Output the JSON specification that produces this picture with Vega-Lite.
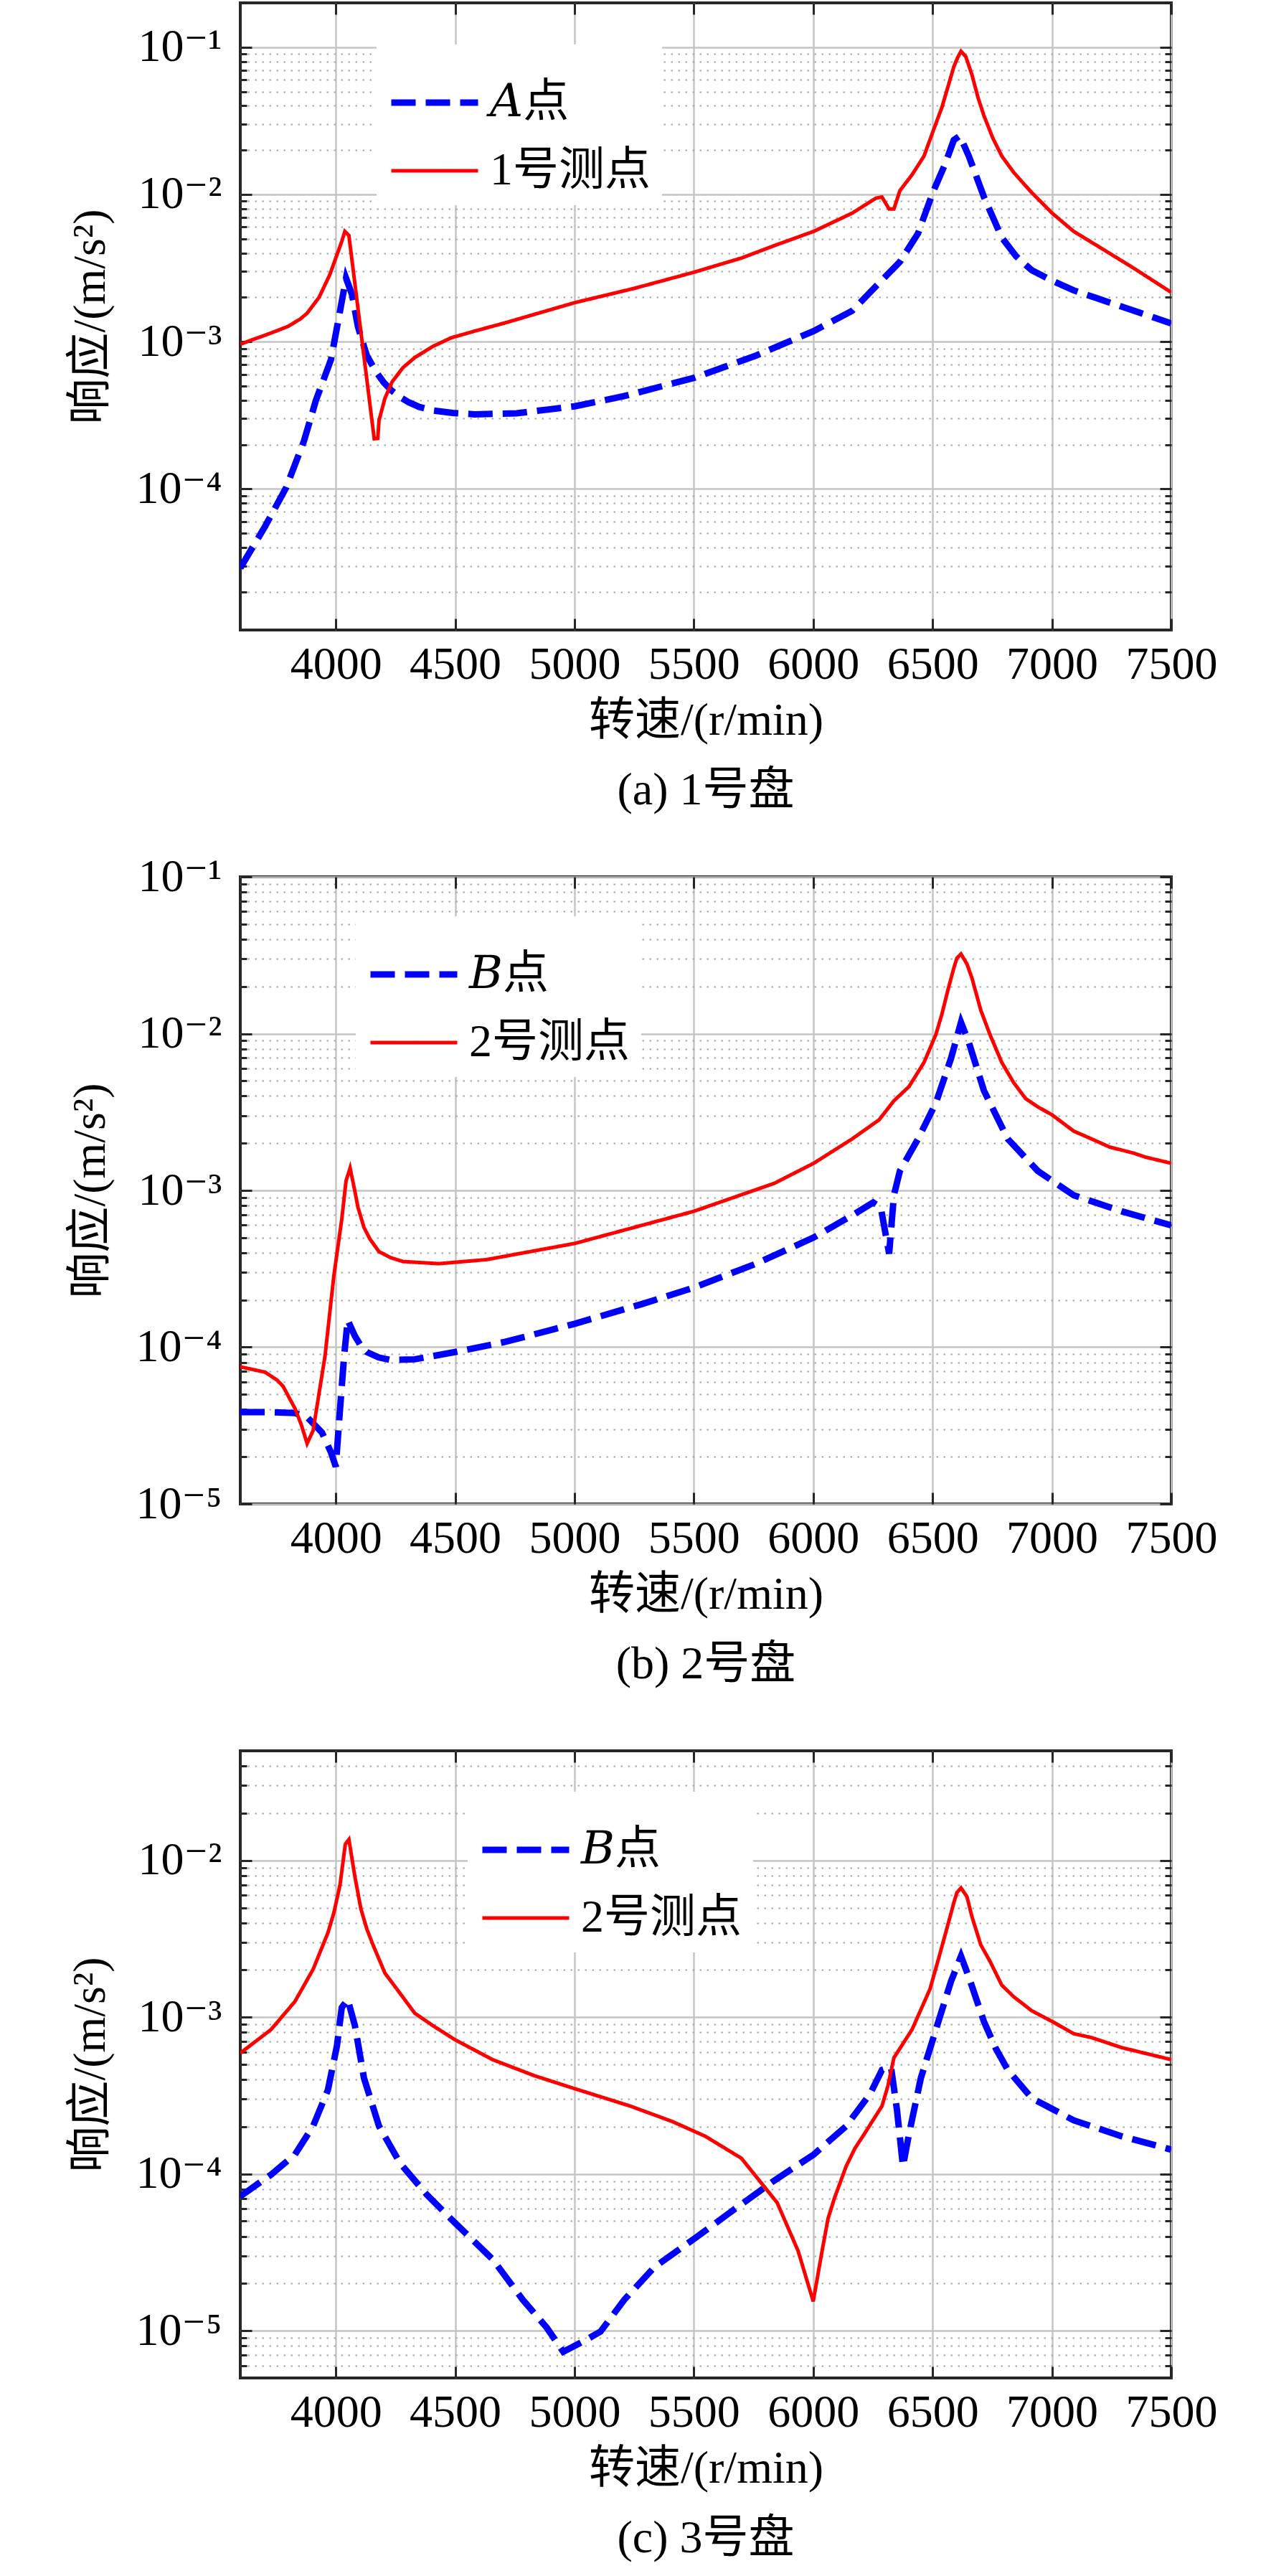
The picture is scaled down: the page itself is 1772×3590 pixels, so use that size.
{
  "$schema": "https://vega.github.io/schema/vega-lite/v6.json",
  "padding": {"left": 92, "top": 0, "right": 5, "bottom": 5},
  "background": "white",
  "datasets": {
    "resp": [
      {"p": "a", "s": "𝐴点", "r": 3600, "v": 2.9e-5},
      {"p": "a", "s": "𝐴点", "r": 3704, "v": 5.57e-5},
      {"p": "a", "s": "𝐴点", "r": 3792, "v": 1.02e-4},
      {"p": "a", "s": "𝐴点", "r": 3867, "v": 2.12e-4},
      {"p": "a", "s": "𝐴点", "r": 3917, "v": 4.0e-4},
      {"p": "a", "s": "𝐴点", "r": 3980, "v": 7.55e-4},
      {"p": "a", "s": "𝐴点", "r": 4018, "v": 1.62e-3},
      {"p": "a", "s": "𝐴点", "r": 4043, "v": 2.7e-3},
      {"p": "a", "s": "𝐴点", "r": 4068, "v": 2.09e-3},
      {"p": "a", "s": "𝐴点", "r": 4093, "v": 1.26e-3},
      {"p": "a", "s": "𝐴点", "r": 4130, "v": 8.05e-4},
      {"p": "a", "s": "𝐴点", "r": 4168, "v": 6.25e-4},
      {"p": "a", "s": "𝐴点", "r": 4200, "v": 5.3e-4},
      {"p": "a", "s": "𝐴点", "r": 4231, "v": 4.69e-4},
      {"p": "a", "s": "𝐴点", "r": 4270, "v": 4.2e-4},
      {"p": "a", "s": "𝐴点", "r": 4306, "v": 3.87e-4},
      {"p": "a", "s": "𝐴点", "r": 4350, "v": 3.6e-4},
      {"p": "a", "s": "𝐴点", "r": 4406, "v": 3.41e-4},
      {"p": "a", "s": "𝐴点", "r": 4490, "v": 3.28e-4},
      {"p": "a", "s": "𝐴点", "r": 4582, "v": 3.21e-4},
      {"p": "a", "s": "𝐴点", "r": 4758, "v": 3.26e-4},
      {"p": "a", "s": "𝐴点", "r": 5001, "v": 3.64e-4},
      {"p": "a", "s": "𝐴点", "r": 5209, "v": 4.27e-4},
      {"p": "a", "s": "𝐴点", "r": 5500, "v": 5.67e-4},
      {"p": "a", "s": "𝐴点", "r": 5761, "v": 8.05e-4},
      {"p": "a", "s": "𝐴点", "r": 6002, "v": 1.18e-3},
      {"p": "a", "s": "𝐴点", "r": 6163, "v": 1.62e-3},
      {"p": "a", "s": "𝐴点", "r": 6263, "v": 2.38e-3},
      {"p": "a", "s": "𝐴点", "r": 6363, "v": 3.48e-3},
      {"p": "a", "s": "𝐴点", "r": 6439, "v": 5.43e-3},
      {"p": "a", "s": "𝐴点", "r": 6501, "v": 1.03e-2},
      {"p": "a", "s": "𝐴点", "r": 6552, "v": 1.6e-2},
      {"p": "a", "s": "𝐴点", "r": 6589, "v": 2.34e-2},
      {"p": "a", "s": "𝐴点", "r": 6614, "v": 2.5e-2},
      {"p": "a", "s": "𝐴点", "r": 6652, "v": 1.82e-2},
      {"p": "a", "s": "𝐴点", "r": 6715, "v": 9.62e-3},
      {"p": "a", "s": "𝐴点", "r": 6790, "v": 5.09e-3},
      {"p": "a", "s": "𝐴点", "r": 6850, "v": 3.8e-3},
      {"p": "a", "s": "𝐴点", "r": 6915, "v": 3.06e-3},
      {"p": "a", "s": "𝐴点", "r": 7000, "v": 2.6e-3},
      {"p": "a", "s": "𝐴点", "r": 7091, "v": 2.23e-3},
      {"p": "a", "s": "𝐴点", "r": 7292, "v": 1.73e-3},
      {"p": "a", "s": "𝐴点", "r": 7500, "v": 1.33e-3},

      {"p": "a", "s": "1号测点", "r": 3600, "v": 9.6e-4},
      {"p": "a", "s": "1号测点", "r": 3650, "v": 1.03e-3},
      {"p": "a", "s": "1号测点", "r": 3700, "v": 1.1e-3},
      {"p": "a", "s": "1号测点", "r": 3750, "v": 1.18e-3},
      {"p": "a", "s": "1号测点", "r": 3800, "v": 1.27e-3},
      {"p": "a", "s": "1号测点", "r": 3850, "v": 1.42e-3},
      {"p": "a", "s": "1号测点", "r": 3880, "v": 1.56e-3},
      {"p": "a", "s": "1号测点", "r": 3930, "v": 2.0e-3},
      {"p": "a", "s": "1号测点", "r": 3975, "v": 2.85e-3},
      {"p": "a", "s": "1号测点", "r": 4010, "v": 4.1e-3},
      {"p": "a", "s": "1号测点", "r": 4025, "v": 4.79e-3},
      {"p": "a", "s": "1号测点", "r": 4038, "v": 5.61e-3},
      {"p": "a", "s": "1号测点", "r": 4055, "v": 5.26e-3},
      {"p": "a", "s": "1号测点", "r": 4161, "v": 2.19e-4},
      {"p": "a", "s": "1号测点", "r": 4176, "v": 2.2e-4},
      {"p": "a", "s": "1号测点", "r": 4181, "v": 2.91e-4},
      {"p": "a", "s": "1号测点", "r": 4206, "v": 4.13e-4},
      {"p": "a", "s": "1号测点", "r": 4236, "v": 5.33e-4},
      {"p": "a", "s": "1号测点", "r": 4281, "v": 6.65e-4},
      {"p": "a", "s": "1号测点", "r": 4331, "v": 7.8e-4},
      {"p": "a", "s": "1号测点", "r": 4406, "v": 9.27e-4},
      {"p": "a", "s": "1号测点", "r": 4482, "v": 1.06e-3},
      {"p": "a", "s": "1号测点", "r": 4582, "v": 1.18e-3},
      {"p": "a", "s": "1号测点", "r": 4708, "v": 1.34e-3},
      {"p": "a", "s": "1号测点", "r": 5001, "v": 1.84e-3},
      {"p": "a", "s": "1号测点", "r": 5250, "v": 2.3e-3},
      {"p": "a", "s": "1号测点", "r": 5500, "v": 2.96e-3},
      {"p": "a", "s": "1号测点", "r": 5700, "v": 3.7e-3},
      {"p": "a", "s": "1号测点", "r": 5837, "v": 4.49e-3},
      {"p": "a", "s": "1号测点", "r": 6002, "v": 5.61e-3},
      {"p": "a", "s": "1号测点", "r": 6163, "v": 7.46e-3},
      {"p": "a", "s": "1号测点", "r": 6263, "v": 9.44e-3},
      {"p": "a", "s": "1号测点", "r": 6288, "v": 9.6e-3},
      {"p": "a", "s": "1号测点", "r": 6318, "v": 7.96e-3},
      {"p": "a", "s": "1号测点", "r": 6338, "v": 7.96e-3},
      {"p": "a", "s": "1号测点", "r": 6363, "v": 1.06e-2},
      {"p": "a", "s": "1号测点", "r": 6414, "v": 1.36e-2},
      {"p": "a", "s": "1号测点", "r": 6464, "v": 1.82e-2},
      {"p": "a", "s": "1号测点", "r": 6501, "v": 2.66e-2},
      {"p": "a", "s": "1号测点", "r": 6539, "v": 3.9e-2},
      {"p": "a", "s": "1号测点", "r": 6564, "v": 5.36e-2},
      {"p": "a", "s": "1号测点", "r": 6589, "v": 7.36e-2},
      {"p": "a", "s": "1号测点", "r": 6605, "v": 8.5e-2},
      {"p": "a", "s": "1号测点", "r": 6619, "v": 9.38e-2},
      {"p": "a", "s": "1号测点", "r": 6639, "v": 8.64e-2},
      {"p": "a", "s": "1号测点", "r": 6665, "v": 6.49e-2},
      {"p": "a", "s": "1号测点", "r": 6690, "v": 4.57e-2},
      {"p": "a", "s": "1号测点", "r": 6715, "v": 3.43e-2},
      {"p": "a", "s": "1号测点", "r": 6752, "v": 2.42e-2},
      {"p": "a", "s": "1号测点", "r": 6790, "v": 1.82e-2},
      {"p": "a", "s": "1号测点", "r": 6840, "v": 1.41e-2},
      {"p": "a", "s": "1号测点", "r": 6915, "v": 1.03e-2},
      {"p": "a", "s": "1号测点", "r": 7001, "v": 7.46e-3},
      {"p": "a", "s": "1号测点", "r": 7091, "v": 5.61e-3},
      {"p": "a", "s": "1号测点", "r": 7217, "v": 4.21e-3},
      {"p": "a", "s": "1号测点", "r": 7342, "v": 3.16e-3},
      {"p": "a", "s": "1号测点", "r": 7500, "v": 2.16e-3},

      {"p": "b", "s": "𝐵点", "r": 3600, "v": 3.85e-5},
      {"p": "b", "s": "𝐵点", "r": 3729, "v": 3.85e-5},
      {"p": "b", "s": "𝐵点", "r": 3829, "v": 3.8e-5},
      {"p": "b", "s": "𝐵点", "r": 3880, "v": 3.58e-5},
      {"p": "b", "s": "𝐵点", "r": 3942, "v": 2.86e-5},
      {"p": "b", "s": "𝐵点", "r": 3980, "v": 2.13e-5},
      {"p": "b", "s": "𝐵点", "r": 4000, "v": 1.73e-5},
      {"p": "b", "s": "𝐵点", "r": 4018, "v": 4.07e-5},
      {"p": "b", "s": "𝐵点", "r": 4035, "v": 8.79e-5},
      {"p": "b", "s": "𝐵点", "r": 4050, "v": 1.49e-4},
      {"p": "b", "s": "𝐵点", "r": 4080, "v": 1.18e-4},
      {"p": "b", "s": "𝐵点", "r": 4105, "v": 1.02e-4},
      {"p": "b", "s": "𝐵点", "r": 4130, "v": 9.31e-5},
      {"p": "b", "s": "𝐵点", "r": 4180, "v": 8.6e-5},
      {"p": "b", "s": "𝐵点", "r": 4231, "v": 8.28e-5},
      {"p": "b", "s": "𝐵点", "r": 4331, "v": 8.37e-5},
      {"p": "b", "s": "𝐵点", "r": 4499, "v": 9.31e-5},
      {"p": "b", "s": "𝐵点", "r": 4708, "v": 1.08e-4},
      {"p": "b", "s": "𝐵点", "r": 5001, "v": 1.41e-4},
      {"p": "b", "s": "𝐵点", "r": 5285, "v": 1.89e-4},
      {"p": "b", "s": "𝐵点", "r": 5500, "v": 2.4e-4},
      {"p": "b", "s": "𝐵点", "r": 5761, "v": 3.41e-4},
      {"p": "b", "s": "𝐵点", "r": 6002, "v": 5.01e-4},
      {"p": "b", "s": "𝐵点", "r": 6163, "v": 6.93e-4},
      {"p": "b", "s": "𝐵点", "r": 6251, "v": 8.37e-4},
      {"p": "b", "s": "𝐵点", "r": 6283, "v": 7.8e-4},
      {"p": "b", "s": "𝐵点", "r": 6318, "v": 3.95e-4},
      {"p": "b", "s": "𝐵点", "r": 6338, "v": 9.31e-4},
      {"p": "b", "s": "𝐵点", "r": 6363, "v": 1.33e-3},
      {"p": "b", "s": "𝐵点", "r": 6439, "v": 2.13e-3},
      {"p": "b", "s": "𝐵点", "r": 6514, "v": 3.62e-3},
      {"p": "b", "s": "𝐵点", "r": 6577, "v": 6.93e-3},
      {"p": "b", "s": "𝐵点", "r": 6619, "v": 1.18e-2},
      {"p": "b", "s": "𝐵点", "r": 6652, "v": 8.78e-3},
      {"p": "b", "s": "𝐵点", "r": 6715, "v": 4.33e-3},
      {"p": "b", "s": "𝐵点", "r": 6815, "v": 2.13e-3},
      {"p": "b", "s": "𝐵点", "r": 6941, "v": 1.33e-3},
      {"p": "b", "s": "𝐵点", "r": 7091, "v": 9.31e-4},
      {"p": "b", "s": "𝐵点", "r": 7292, "v": 7.36e-4},
      {"p": "b", "s": "𝐵点", "r": 7500, "v": 5.98e-4},

      {"p": "b", "s": "2号测点", "r": 3600, "v": 7.5e-5},
      {"p": "b", "s": "2号测点", "r": 3704, "v": 6.93e-5},
      {"p": "b", "s": "2号测点", "r": 3754, "v": 6.17e-5},
      {"p": "b", "s": "2号测点", "r": 3779, "v": 5.64e-5},
      {"p": "b", "s": "2号测点", "r": 3829, "v": 4.07e-5},
      {"p": "b", "s": "2号测点", "r": 3855, "v": 3.22e-5},
      {"p": "b", "s": "2号测点", "r": 3880, "v": 2.43e-5},
      {"p": "b", "s": "2号测点", "r": 3905, "v": 2.94e-5},
      {"p": "b", "s": "2号测点", "r": 3955, "v": 8.79e-5},
      {"p": "b", "s": "2号测点", "r": 3992, "v": 2.86e-4},
      {"p": "b", "s": "2号测点", "r": 4025, "v": 6.53e-4},
      {"p": "b", "s": "2号测点", "r": 4043, "v": 1.15e-3},
      {"p": "b", "s": "2号测点", "r": 4060, "v": 1.39e-3},
      {"p": "b", "s": "2号测点", "r": 4080, "v": 9.89e-4},
      {"p": "b", "s": "2号测点", "r": 4093, "v": 7.8e-4},
      {"p": "b", "s": "2号测点", "r": 4118, "v": 5.81e-4},
      {"p": "b", "s": "2号测点", "r": 4143, "v": 4.9e-4},
      {"p": "b", "s": "2号测点", "r": 4181, "v": 4.07e-4},
      {"p": "b", "s": "2号测点", "r": 4231, "v": 3.72e-4},
      {"p": "b", "s": "2号测点", "r": 4281, "v": 3.52e-4},
      {"p": "b", "s": "2号测点", "r": 4432, "v": 3.41e-4},
      {"p": "b", "s": "2号测点", "r": 4632, "v": 3.62e-4},
      {"p": "b", "s": "2号测点", "r": 5001, "v": 4.59e-4},
      {"p": "b", "s": "2号测点", "r": 5500, "v": 7.36e-4},
      {"p": "b", "s": "2号测点", "r": 5837, "v": 1.11e-3},
      {"p": "b", "s": "2号测点", "r": 6002, "v": 1.49e-3},
      {"p": "b", "s": "2号测点", "r": 6163, "v": 2.13e-3},
      {"p": "b", "s": "2号测点", "r": 6276, "v": 2.82e-3},
      {"p": "b", "s": "2号测点", "r": 6338, "v": 3.73e-3},
      {"p": "b", "s": "2号测点", "r": 6401, "v": 4.59e-3},
      {"p": "b", "s": "2号测点", "r": 6464, "v": 6.54e-3},
      {"p": "b", "s": "2号测点", "r": 6514, "v": 9.89e-3},
      {"p": "b", "s": "2号测点", "r": 6539, "v": 1.33e-2},
      {"p": "b", "s": "2号测点", "r": 6564, "v": 1.89e-2},
      {"p": "b", "s": "2号测点", "r": 6589, "v": 2.62e-2},
      {"p": "b", "s": "2号测点", "r": 6602, "v": 3.03e-2},
      {"p": "b", "s": "2号测点", "r": 6619, "v": 3.22e-2},
      {"p": "b", "s": "2号测点", "r": 6644, "v": 2.78e-2},
      {"p": "b", "s": "2号测点", "r": 6665, "v": 2.26e-2},
      {"p": "b", "s": "2号测点", "r": 6702, "v": 1.41e-2},
      {"p": "b", "s": "2号测点", "r": 6740, "v": 9.89e-3},
      {"p": "b", "s": "2号测点", "r": 6790, "v": 6.54e-3},
      {"p": "b", "s": "2号测点", "r": 6840, "v": 4.86e-3},
      {"p": "b", "s": "2号测点", "r": 6890, "v": 3.85e-3},
      {"p": "b", "s": "2号测点", "r": 6941, "v": 3.41e-3},
      {"p": "b", "s": "2号测点", "r": 7001, "v": 3.03e-3},
      {"p": "b", "s": "2号测点", "r": 7091, "v": 2.39e-3},
      {"p": "b", "s": "2号测点", "r": 7166, "v": 2.13e-3},
      {"p": "b", "s": "2号测点", "r": 7242, "v": 1.89e-3},
      {"p": "b", "s": "2号测点", "r": 7342, "v": 1.73e-3},
      {"p": "b", "s": "2号测点", "r": 7392, "v": 1.63e-3},
      {"p": "b", "s": "2号测点", "r": 7500, "v": 1.49e-3},

      {"p": "c", "s": "𝐵点", "r": 3600, "v": 7.2e-5},
      {"p": "c", "s": "𝐵点", "r": 3729, "v": 9.91e-5},
      {"p": "c", "s": "𝐵点", "r": 3829, "v": 1.33e-4},
      {"p": "c", "s": "𝐵点", "r": 3905, "v": 2.02e-4},
      {"p": "c", "s": "𝐵点", "r": 3967, "v": 3.43e-4},
      {"p": "c", "s": "𝐵点", "r": 4005, "v": 6.58e-4},
      {"p": "c", "s": "𝐵点", "r": 4025, "v": 1.15e-3},
      {"p": "c", "s": "𝐵点", "r": 4050, "v": 1.3e-3},
      {"p": "c", "s": "𝐵点", "r": 4080, "v": 8.85e-4},
      {"p": "c", "s": "𝐵点", "r": 4118, "v": 4.1e-4},
      {"p": "c", "s": "𝐵点", "r": 4181, "v": 2.02e-4},
      {"p": "c", "s": "𝐵点", "r": 4268, "v": 1.18e-4},
      {"p": "c", "s": "𝐵点", "r": 4381, "v": 7.38e-5},
      {"p": "c", "s": "𝐵点", "r": 4499, "v": 4.88e-5},
      {"p": "c", "s": "𝐵点", "r": 4657, "v": 2.86e-5},
      {"p": "c", "s": "𝐵点", "r": 4783, "v": 1.58e-5},
      {"p": "c", "s": "𝐵点", "r": 4883, "v": 1.05e-5},
      {"p": "c", "s": "𝐵点", "r": 4953, "v": 7.35e-6},
      {"p": "c", "s": "𝐵点", "r": 5034, "v": 8.51e-6},
      {"p": "c", "s": "𝐵点", "r": 5109, "v": 9.88e-6},
      {"p": "c", "s": "𝐵点", "r": 5209, "v": 1.58e-5},
      {"p": "c", "s": "𝐵点", "r": 5335, "v": 2.55e-5},
      {"p": "c", "s": "𝐵点", "r": 5500, "v": 3.85e-5},
      {"p": "c", "s": "𝐵点", "r": 5661, "v": 5.82e-5},
      {"p": "c", "s": "𝐵点", "r": 5837, "v": 9.08e-5},
      {"p": "c", "s": "𝐵点", "r": 6002, "v": 1.33e-4},
      {"p": "c", "s": "𝐵点", "r": 6138, "v": 2.02e-4},
      {"p": "c", "s": "𝐵点", "r": 6238, "v": 3.24e-4},
      {"p": "c", "s": "𝐵点", "r": 6288, "v": 4.61e-4},
      {"p": "c", "s": "𝐵点", "r": 6326, "v": 4.8e-4},
      {"p": "c", "s": "𝐵点", "r": 6351, "v": 2.55e-4},
      {"p": "c", "s": "𝐵点", "r": 6376, "v": 1.12e-4},
      {"p": "c", "s": "𝐵点", "r": 6401, "v": 1.79e-4},
      {"p": "c", "s": "𝐵点", "r": 6451, "v": 4.1e-4},
      {"p": "c", "s": "𝐵点", "r": 6514, "v": 8.34e-4},
      {"p": "c", "s": "𝐵点", "r": 6577, "v": 1.69e-3},
      {"p": "c", "s": "𝐵点", "r": 6619, "v": 2.45e-3},
      {"p": "c", "s": "𝐵点", "r": 6652, "v": 1.8e-3},
      {"p": "c", "s": "𝐵点", "r": 6715, "v": 9.39e-4},
      {"p": "c", "s": "𝐵点", "r": 6765, "v": 6.3e-4},
      {"p": "c", "s": "𝐵点", "r": 6815, "v": 4.61e-4},
      {"p": "c", "s": "𝐵点", "r": 6915, "v": 3.05e-4},
      {"p": "c", "s": "𝐵点", "r": 7091, "v": 2.2e-4},
      {"p": "c", "s": "𝐵点", "r": 7292, "v": 1.74e-4},
      {"p": "c", "s": "𝐵点", "r": 7500, "v": 1.43e-4},

      {"p": "c", "s": "2号测点", "r": 3600, "v": 5.9e-4},
      {"p": "c", "s": "2号测点", "r": 3729, "v": 8.34e-4},
      {"p": "c", "s": "2号测点", "r": 3829, "v": 1.26e-3},
      {"p": "c", "s": "2号测点", "r": 3905, "v": 2.02e-3},
      {"p": "c", "s": "2号测点", "r": 3967, "v": 3.45e-3},
      {"p": "c", "s": "2号测点", "r": 3992, "v": 4.63e-3},
      {"p": "c", "s": "2号测点", "r": 4018, "v": 7.01e-3},
      {"p": "c", "s": "2号测点", "r": 4040, "v": 1.27e-2},
      {"p": "c", "s": "2号测点", "r": 4055, "v": 1.36e-2},
      {"p": "c", "s": "2号测点", "r": 4080, "v": 7.89e-3},
      {"p": "c", "s": "2号测点", "r": 4105, "v": 4.92e-3},
      {"p": "c", "s": "2号测点", "r": 4130, "v": 3.66e-3},
      {"p": "c", "s": "2号测点", "r": 4156, "v": 2.89e-3},
      {"p": "c", "s": "2号测点", "r": 4206, "v": 1.91e-3},
      {"p": "c", "s": "2号测点", "r": 4256, "v": 1.51e-3},
      {"p": "c", "s": "2号测点", "r": 4331, "v": 1.06e-3},
      {"p": "c", "s": "2号测点", "r": 4406, "v": 8.85e-4},
      {"p": "c", "s": "2号测点", "r": 4499, "v": 7.19e-4},
      {"p": "c", "s": "2号测点", "r": 4657, "v": 5.36e-4},
      {"p": "c", "s": "2号测点", "r": 4833, "v": 4.23e-4},
      {"p": "c", "s": "2号测点", "r": 5001, "v": 3.5e-4},
      {"p": "c", "s": "2号测点", "r": 5234, "v": 2.71e-4},
      {"p": "c", "s": "2号测点", "r": 5410, "v": 2.16e-4},
      {"p": "c", "s": "2号测点", "r": 5548, "v": 1.74e-4},
      {"p": "c", "s": "2号测点", "r": 5699, "v": 1.26e-4},
      {"p": "c", "s": "2号测点", "r": 5849, "v": 6.56e-5},
      {"p": "c", "s": "2号测点", "r": 5937, "v": 3.22e-5},
      {"p": "c", "s": "2号测点", "r": 6000, "v": 1.54e-5},
      {"p": "c", "s": "2号测点", "r": 6037, "v": 3.22e-5},
      {"p": "c", "s": "2号测点", "r": 6062, "v": 5.18e-5},
      {"p": "c", "s": "2号测点", "r": 6088, "v": 6.95e-5},
      {"p": "c", "s": "2号测点", "r": 6138, "v": 1.12e-4},
      {"p": "c", "s": "2号测点", "r": 6175, "v": 1.46e-4},
      {"p": "c", "s": "2号测点", "r": 6213, "v": 1.79e-4},
      {"p": "c", "s": "2号测点", "r": 6288, "v": 2.71e-4},
      {"p": "c", "s": "2号测点", "r": 6313, "v": 3.65e-4},
      {"p": "c", "s": "2号测点", "r": 6338, "v": 5.51e-4},
      {"p": "c", "s": "2号测点", "r": 6414, "v": 8.34e-4},
      {"p": "c", "s": "2号测点", "r": 6489, "v": 1.51e-3},
      {"p": "c", "s": "2号测点", "r": 6527, "v": 2.42e-3},
      {"p": "c", "s": "2号测点", "r": 6564, "v": 3.88e-3},
      {"p": "c", "s": "2号测点", "r": 6589, "v": 5.37e-3},
      {"p": "c", "s": "2号测点", "r": 6602, "v": 6.24e-3},
      {"p": "c", "s": "2号测点", "r": 6619, "v": 6.68e-3},
      {"p": "c", "s": "2号测点", "r": 6644, "v": 5.87e-3},
      {"p": "c", "s": "2号测点", "r": 6665, "v": 4.37e-3},
      {"p": "c", "s": "2号测点", "r": 6702, "v": 2.89e-3},
      {"p": "c", "s": "2号测点", "r": 6740, "v": 2.28e-3},
      {"p": "c", "s": "2号测点", "r": 6790, "v": 1.6e-3},
      {"p": "c", "s": "2号测点", "r": 6840, "v": 1.35e-3},
      {"p": "c", "s": "2号测点", "r": 6915, "v": 1.1e-3},
      {"p": "c", "s": "2号测点", "r": 7001, "v": 9.39e-4},
      {"p": "c", "s": "2号测点", "r": 7091, "v": 7.85e-4},
      {"p": "c", "s": "2号测点", "r": 7166, "v": 7.41e-4},
      {"p": "c", "s": "2号测点", "r": 7292, "v": 6.4e-4},
      {"p": "c", "s": "2号测点", "r": 7500, "v": 5.36e-4}
    ]
  },
  "data": {"name": "resp"},
  "vconcat": [
    {
      "width": 1298,
      "height": 874,
      "transform": [{"filter": "datum.p === 'a'"}],
      "title": {"text": "(a) 1号盘", "orient": "bottom", "frame": "group", "anchor": "middle", "offset": 34},
      "layer": [
        {
          "mark": {"type": "line", "clip": true},
          "encoding": {
            "x": {"field": "r", "type": "quantitative", "scale": {"domain": [3600, 7500], "nice": false, "zero": false},
              "axis": {"values": [4000, 4500, 5000, 5500, 6000, 6500, 7000, 7500], "format": "d", "title": "转速/(r/min)", "labelPadding": 32, "titlePadding": 14, "tickSize": -16, "grid": true, "gridColor": "#c4c4c4", "gridWidth": 2.5}},
            "y": {"field": "v", "type": "quantitative", "scale": {"type": "log", "domain": [1.1e-5, 0.2], "nice": false},
              "axis": {"values": [2e-5, 3e-5, 4e-5, 5e-5, 6e-5, 7e-5, 8e-5, 9e-5, 1e-4, 2e-4, 3e-4, 4e-4, 5e-4, 6e-4, 7e-4, 8e-4, 9e-4, 1e-3, 2e-3, 3e-3, 4e-3, 5e-3, 6e-3, 7e-3, 8e-3, 9e-3, 1e-2, 2e-2, 3e-2, 4e-2, 5e-2, 6e-2, 7e-2, 8e-2, 9e-2, 0.1],
                "labelExpr": "abs(log(datum.value)/LN10 - round(log(datum.value)/LN10)) < 0.01 ? '10⁻' + ['⁰','¹','²','³','⁴','⁵','⁶'][-round(log(datum.value)/LN10)] : ''",
                "title": "响应/(m/s²)", "labelPadding": 42, "titlePadding": 30,
                "tickSize": {"condition": {"test": "abs(log(datum.value)/LN10 - round(log(datum.value)/LN10)) < 0.01", "value": -16}, "value": -9},
                "grid": true,
                "gridColor": {"condition": {"test": "abs(log(datum.value)/LN10 - round(log(datum.value)/LN10)) < 0.01", "value": "#c4c4c4"}, "value": "#a8a8a8"},
                "gridDash": {"condition": {"test": "abs(log(datum.value)/LN10 - round(log(datum.value)/LN10)) < 0.01", "value": []}, "value": [2.5, 7.5]},
                "gridWidth": {"condition": {"test": "abs(log(datum.value)/LN10 - round(log(datum.value)/LN10)) < 0.01", "value": 2.5}, "value": 2}}},
            "color": {"field": "s", "type": "nominal", "scale": {"domain": ["𝐴点", "1号测点"], "range": ["#0000ff", "#ff0000"]},
              "legend": {"orient": "none", "legendX": 190, "legendY": 58}},
            "strokeDash": {"field": "s", "type": "nominal", "scale": {"domain": ["𝐴点", "1号测点"], "range": [[34, 14], [1, 0]]}},
            "strokeWidth": {"field": "s", "type": "nominal", "scale": {"domain": ["𝐴点", "1号测点"], "range": [9, 5]}}
          }
        },
        {
          "mark": {"type": "line", "opacity": 0},
          "encoding": {
            "x": {"field": "r", "type": "quantitative", "axis": {"orient": "top", "values": [4000, 4500, 5000, 5500, 6000, 6500, 7000, 7500], "labels": false, "title": null, "grid": false, "tickSize": -16}},
            "y": {"field": "v", "type": "quantitative", "axis": {"orient": "right", "values": [2e-5, 3e-5, 4e-5, 5e-5, 6e-5, 7e-5, 8e-5, 9e-5, 1e-4, 2e-4, 3e-4, 4e-4, 5e-4, 6e-4, 7e-4, 8e-4, 9e-4, 1e-3, 2e-3, 3e-3, 4e-3, 5e-3, 6e-3, 7e-3, 8e-3, 9e-3, 1e-2, 2e-2, 3e-2, 4e-2, 5e-2, 6e-2, 7e-2, 8e-2, 9e-2, 0.1], "labels": false, "title": null, "grid": false,
              "tickSize": {"condition": {"test": "abs(log(datum.value)/LN10 - round(log(datum.value)/LN10)) < 0.01", "value": -16}, "value": -9}}},
            "detail": {"field": "s"}
          }
        }
      ],
      "resolve": {"axis": {"x": "independent", "y": "independent"}}
    },
    {
      "width": 1298,
      "height": 874,
      "transform": [{"filter": "datum.p === 'b'"}],
      "title": {"text": "(b) 2号盘", "orient": "bottom", "frame": "group", "anchor": "middle", "offset": 34},
      "layer": [
        {
          "mark": {"type": "line", "clip": true},
          "encoding": {
            "x": {"field": "r", "type": "quantitative", "scale": {"domain": [3600, 7500], "nice": false, "zero": false},
              "axis": {"values": [4000, 4500, 5000, 5500, 6000, 6500, 7000, 7500], "format": "d", "title": "转速/(r/min)", "labelPadding": 32, "titlePadding": 14, "tickSize": -16, "grid": true, "gridColor": "#c4c4c4", "gridWidth": 2.5}},
            "y": {"field": "v", "type": "quantitative", "scale": {"type": "log", "domain": [1e-5, 0.1], "nice": false},
              "axis": {"values": [1e-5, 2e-5, 3e-5, 4e-5, 5e-5, 6e-5, 7e-5, 8e-5, 9e-5, 1e-4, 2e-4, 3e-4, 4e-4, 5e-4, 6e-4, 7e-4, 8e-4, 9e-4, 1e-3, 2e-3, 3e-3, 4e-3, 5e-3, 6e-3, 7e-3, 8e-3, 9e-3, 1e-2, 2e-2, 3e-2, 4e-2, 5e-2, 6e-2, 7e-2, 8e-2, 9e-2, 0.1],
                "labelExpr": "abs(log(datum.value)/LN10 - round(log(datum.value)/LN10)) < 0.01 ? '10⁻' + ['⁰','¹','²','³','⁴','⁵','⁶'][-round(log(datum.value)/LN10)] : ''",
                "title": "响应/(m/s²)", "labelPadding": 42, "titlePadding": 30,
                "tickSize": {"condition": {"test": "abs(log(datum.value)/LN10 - round(log(datum.value)/LN10)) < 0.01", "value": -16}, "value": -9},
                "grid": true,
                "gridColor": {"condition": {"test": "abs(log(datum.value)/LN10 - round(log(datum.value)/LN10)) < 0.01", "value": "#c4c4c4"}, "value": "#a8a8a8"},
                "gridDash": {"condition": {"test": "abs(log(datum.value)/LN10 - round(log(datum.value)/LN10)) < 0.01", "value": []}, "value": [2.5, 7.5]},
                "gridWidth": {"condition": {"test": "abs(log(datum.value)/LN10 - round(log(datum.value)/LN10)) < 0.01", "value": 2.5}, "value": 2}}},
            "color": {"field": "s", "type": "nominal", "scale": {"domain": ["𝐵点", "2号测点"], "range": ["#0000ff", "#ff0000"]},
              "legend": {"orient": "none", "legendX": 161, "legendY": 55}},
            "strokeDash": {"field": "s", "type": "nominal", "scale": {"domain": ["𝐵点", "2号测点"], "range": [[34, 14], [1, 0]]}},
            "strokeWidth": {"field": "s", "type": "nominal", "scale": {"domain": ["𝐵点", "2号测点"], "range": [9, 5]}}
          }
        },
        {
          "mark": {"type": "line", "opacity": 0},
          "encoding": {
            "x": {"field": "r", "type": "quantitative", "axis": {"orient": "top", "values": [4000, 4500, 5000, 5500, 6000, 6500, 7000, 7500], "labels": false, "title": null, "grid": false, "tickSize": -16}},
            "y": {"field": "v", "type": "quantitative", "axis": {"orient": "right", "values": [1e-5, 2e-5, 3e-5, 4e-5, 5e-5, 6e-5, 7e-5, 8e-5, 9e-5, 1e-4, 2e-4, 3e-4, 4e-4, 5e-4, 6e-4, 7e-4, 8e-4, 9e-4, 1e-3, 2e-3, 3e-3, 4e-3, 5e-3, 6e-3, 7e-3, 8e-3, 9e-3, 1e-2, 2e-2, 3e-2, 4e-2, 5e-2, 6e-2, 7e-2, 8e-2, 9e-2, 0.1], "labels": false, "title": null, "grid": false,
              "tickSize": {"condition": {"test": "abs(log(datum.value)/LN10 - round(log(datum.value)/LN10)) < 0.01", "value": -16}, "value": -9}}},
            "detail": {"field": "s"}
          }
        }
      ],
      "resolve": {"axis": {"x": "independent", "y": "independent"}}
    },
    {
      "width": 1298,
      "height": 874,
      "transform": [{"filter": "datum.p === 'c'"}],
      "title": {"text": "(c) 3号盘", "orient": "bottom", "frame": "group", "anchor": "middle", "offset": 34},
      "layer": [
        {
          "mark": {"type": "line", "clip": true},
          "encoding": {
            "x": {"field": "r", "type": "quantitative", "scale": {"domain": [3600, 7500], "nice": false, "zero": false},
              "axis": {"values": [4000, 4500, 5000, 5500, 6000, 6500, 7000, 7500], "format": "d", "title": "转速/(r/min)", "labelPadding": 32, "titlePadding": 14, "tickSize": -16, "grid": true, "gridColor": "#c4c4c4", "gridWidth": 2.5}},
            "y": {"field": "v", "type": "quantitative", "scale": {"type": "log", "domain": [5e-6, 0.05], "nice": false},
              "axis": {"values": [6e-6, 7e-6, 8e-6, 9e-6, 1e-5, 2e-5, 3e-5, 4e-5, 5e-5, 6e-5, 7e-5, 8e-5, 9e-5, 1e-4, 2e-4, 3e-4, 4e-4, 5e-4, 6e-4, 7e-4, 8e-4, 9e-4, 1e-3, 2e-3, 3e-3, 4e-3, 5e-3, 6e-3, 7e-3, 8e-3, 9e-3, 1e-2, 2e-2, 3e-2, 4e-2],
                "labelExpr": "abs(log(datum.value)/LN10 - round(log(datum.value)/LN10)) < 0.01 ? '10⁻' + ['⁰','¹','²','³','⁴','⁵','⁶'][-round(log(datum.value)/LN10)] : ''",
                "title": "响应/(m/s²)", "labelPadding": 42, "titlePadding": 30,
                "tickSize": {"condition": {"test": "abs(log(datum.value)/LN10 - round(log(datum.value)/LN10)) < 0.01", "value": -16}, "value": -9},
                "grid": true,
                "gridColor": {"condition": {"test": "abs(log(datum.value)/LN10 - round(log(datum.value)/LN10)) < 0.01", "value": "#c4c4c4"}, "value": "#a8a8a8"},
                "gridDash": {"condition": {"test": "abs(log(datum.value)/LN10 - round(log(datum.value)/LN10)) < 0.01", "value": []}, "value": [2.5, 7.5]},
                "gridWidth": {"condition": {"test": "abs(log(datum.value)/LN10 - round(log(datum.value)/LN10)) < 0.01", "value": 2.5}, "value": 2}}},
            "color": {"field": "s", "type": "nominal", "scale": {"domain": ["𝐵点", "2号测点"], "range": ["#0000ff", "#ff0000"]},
              "legend": {"orient": "none", "legendX": 317, "legendY": 57}},
            "strokeDash": {"field": "s", "type": "nominal", "scale": {"domain": ["𝐵点", "2号测点"], "range": [[34, 14], [1, 0]]}},
            "strokeWidth": {"field": "s", "type": "nominal", "scale": {"domain": ["𝐵点", "2号测点"], "range": [9, 5]}}
          }
        },
        {
          "mark": {"type": "line", "opacity": 0},
          "encoding": {
            "x": {"field": "r", "type": "quantitative", "axis": {"orient": "top", "values": [4000, 4500, 5000, 5500, 6000, 6500, 7000, 7500], "labels": false, "title": null, "grid": false, "tickSize": -16}},
            "y": {"field": "v", "type": "quantitative", "axis": {"orient": "right", "values": [6e-6, 7e-6, 8e-6, 9e-6, 1e-5, 2e-5, 3e-5, 4e-5, 5e-5, 6e-5, 7e-5, 8e-5, 9e-5, 1e-4, 2e-4, 3e-4, 4e-4, 5e-4, 6e-4, 7e-4, 8e-4, 9e-4, 1e-3, 2e-3, 3e-3, 4e-3, 5e-3, 6e-3, 7e-3, 8e-3, 9e-3, 1e-2, 2e-2, 3e-2, 4e-2], "labels": false, "title": null, "grid": false,
              "tickSize": {"condition": {"test": "abs(log(datum.value)/LN10 - round(log(datum.value)/LN10)) < 0.01", "value": -16}, "value": -9}}},
            "detail": {"field": "s"}
          }
        }
      ],
      "resolve": {"axis": {"x": "independent", "y": "independent"}}
    }
  ],
  "spacing": 344,
  "bounds": "flush",
  "resolve": {"scale": {"x": "independent", "y": "independent", "color": "independent", "strokeDash": "independent", "strokeWidth": "independent"}},
  "config": {
    "font": "Liberation Serif, DejaVu Serif, Noto Sans CJK SC",
    "view": {"stroke": "#262626", "strokeWidth": 4},
    "axis": {
      "labelFont": "Liberation Serif, DejaVu Serif, Noto Sans CJK SC",
      "titleFont": "Liberation Serif, DejaVu Serif, Noto Sans CJK SC",
      "labelFontSize": 64, "titleFontSize": 64, "titleFontWeight": "normal",
      "labelColor": "black", "titleColor": "black",
      "tickColor": "#262626", "tickWidth": 3, "domain": false,
      "labelOverlap": false, "labelFlush": false
    },
    "legend": {
      "title": null, "fillColor": "white", "padding": 16,
      "symbolType": "stroke", "symbolSize": 14641,
      "labelFont": "Liberation Serif, DejaVu Serif, Noto Sans CJK SC",
      "labelFontSize": 64, "labelColor": "black", "labelLimit": 0, "labelOffset": 12, "rowPadding": -30
    },
    "title": {"font": "Liberation Serif, DejaVu Serif, Noto Sans CJK SC", "fontSize": 64, "fontWeight": "normal", "color": "black"}
  }
}
